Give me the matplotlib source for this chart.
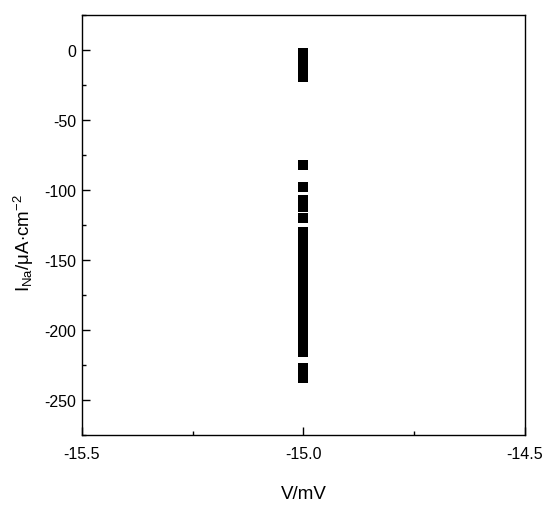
import matplotlib
matplotlib.use("Agg")
import matplotlib.pyplot as plt
from matplotlib.ticker import MultipleLocator

plt.rcParams['font.family'] = ['Liberation Sans', 'DejaVu Sans']
plt.rcParams['axes.unicode_minus'] = False
plt.rcParams['mathtext.fontset'] = 'custom'
plt.rcParams['mathtext.rm'] = 'Liberation Sans'
plt.rcParams['mathtext.it'] = 'Liberation Sans:italic'

voltage = -15.0
current_top = [-2, -5, -8, -11, -14, -17, -19]
current_mid = [-82, -98, -107, -110, -112, -120]
current_main = [-130, -133, -136, -139, -142, -145, -148, -151, -154, -157,
                -160, -163, -166, -169, -172, -175, -178, -181, -184, -187,
                -190, -193, -196, -199, -202, -205, -208, -211, -214, -216]
current_low = [-227, -234]
currents = current_top + current_mid + current_main + current_low
volts = [voltage] * len(currents)

xticks = [-15.5, -15.0, -14.5]
yticks = [0, -50, -100, -150, -200, -250]

fig = plt.figure(figsize=(5.5, 5.1), dpi=100)
ax = fig.add_axes([0.149, 0.145, 0.8055, 0.8236])
ax.scatter(volts, currents, marker='s', s=42, color='black', linewidths=0)

ax.set_xlim(-15.5, -14.5)
ax.set_ylim(-275, 25)
ax.set_xticks(xticks)
ax.set_xticklabels([f"{v:.1f}" for v in xticks])
ax.set_yticks(yticks)
ax.set_yticklabels([str(v) for v in yticks])
ax.xaxis.set_minor_locator(MultipleLocator(0.25))
ax.yaxis.set_minor_locator(MultipleLocator(25))
ax.tick_params(which='major', direction='in', length=6, width=1, labelsize=11.5, pad=4)
ax.tick_params(which='minor', direction='in', length=3, width=1)
ax.tick_params(axis='x', which='major', pad=8)
for sp in ax.spines.values():
    sp.set_linewidth(1.0)

ax.set_xlabel('V/mV', fontsize=13.5, labelpad=17)
ax.set_ylabel(r'I$_{\mathrm{Na}}$/$\mathrm{\mu}$A$\cdot$cm$^{-2}$', fontsize=13.5, labelpad=6)
ax.yaxis.label.set_y(0.46)

fig.savefig('out.png', dpi=100)
